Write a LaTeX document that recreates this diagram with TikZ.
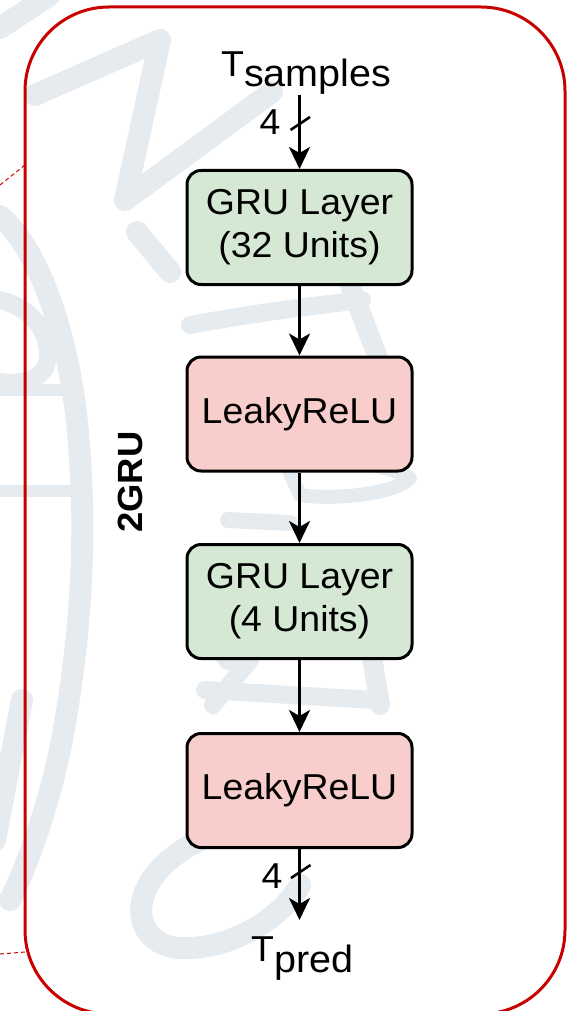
\documentclass[tikz,border=0pt]{standalone}
\usepackage{fontspec}
\setmainfont[FakeStretch=1.04]{Liberation Sans}
\usetikzlibrary{arrows.meta}

\definecolor{gruFill}{HTML}{D5E8D4}
\definecolor{actFill}{HTML}{F8CECC}
\definecolor{frameRed}{RGB}{200,0,0}
\definecolor{markGrey}{RGB}{230,235,240}

\tikzset{
  layerbox/.style={draw=black, line width=3pt, rounded corners=14pt,
    minimum width=225pt, minimum height=114pt, inner sep=0pt, align=center,
    font=\fontsize{36}{43}\selectfont},
  grubox/.style={layerbox, fill=gruFill},
  actbox/.style={layerbox, fill=actFill},
  flow/.style={line width=3pt, -{Stealth[length=22pt,width=21pt,inset=6pt]}},
  busmark/.style={line width=2.5pt},
  buslabel/.style={inner sep=0pt, font=\fontsize{36}{40}\selectfont},
  iolabel/.style={inner sep=0pt, anchor=base west, font=\fontsize{36}{42}\selectfont},
  outline/.style={draw=frameRed, line width=3pt, rounded corners=84pt},
  link/.style={draw=frameRed, line width=1pt, dash pattern=on 4pt off 3pt},
  faint/.style={draw=markGrey, line width=22pt, line cap=round, line join=round}
}

\begin{document}
\begin{tikzpicture}[x=1pt,y=-1pt]
\useasboundingbox (0,0) rectangle (567,1011);
\clip (0,0) rectangle (567,1011);

% faint seal in the background
\begin{scope}[faint]
  % upper letter
  \draw (0,28) -- (50,-5);
  \draw (35,95) -- (160,40) -- (125,200) -- (272,92);
  \draw (137,232) -- (170,272);
  % outer ring of the globe
  \draw (0,216) .. controls (40,250) and (70,340) .. (78,433)
        .. controls (86,520) and (84,620) .. (62,740)
        .. controls (50,800) and (30,860) .. (10,900);
  \draw[line width=18pt] (0,300) .. controls (40,310) and (55,345) .. (45,368) .. controls (38,380) and (20,385) .. (0,382);
  \draw[line width=12pt] (0,390) -- (69,390);
  \draw[line width=12pt] (0,491) -- (80,491);
  \draw (-5,840) -- (22,700);
  % right-hand strokes
  \draw[line width=18pt] (190,325) .. controls (260,312) and (320,305) .. (362,300);
  \draw[line width=20pt] (350,285) -- (382,368);
  \draw[line width=14pt] (285,462) .. controls (330,455) and (390,465) .. (410,478)
        .. controls (395,495) and (330,500) .. (300,495) -- cycle;
  \draw[line width=16pt] (228,520) -- (290,523);
  \draw[line width=20pt] (215,640) -- (228,660);
  \draw[line width=20pt] (365,615) -- (380,705);
  \draw[line width=18pt] (205,690) -- (375,700);
  \draw[line width=18pt] (213,705) -- (250,660);
  % lower hook
  \draw (200,840) .. controls (120,880) and (130,945) .. (180,948)
        .. controls (230,950) and (280,920) .. (300,885);
\end{scope}

% connections to the neighbouring block
\draw[link] (0,185) -- (25,165);
\draw[link] (0,954) -- (25,952);

% group outline
\draw[outline] (25,7) rectangle (565,1014);

% group title
\node[rotate=90, inner sep=0pt, font=\bfseries\fontsize{35}{42}\selectfont] (title) at (130,482) {2GRU};

% layers
\node[grubox] (gru1) at (299.5,227.5) {GRU Layer\\(32 Units)};
\node[actbox] (act1) at (299.5,414) {LeakyReLU};
\node[grubox] (gru2) at (299.5,601.5) {GRU Layer\\(4 Units)};
\node[actbox] (act2) at (299.5,790.5) {LeakyReLU};

% input and output
\node[iolabel] (tin) at (221,77) {T\raisebox{-10pt}{\fontsize{38}{42}\selectfont samples}};
\node[iolabel] (tout) at (251,961) {T\raisebox{-11pt}{\fontsize{38}{42}\selectfont pred}};
\coordinate (inStart) at (299.5,95);
\coordinate (outEnd) at (299.5,920);

\draw[flow] (inStart) -- (gru1.north);
\draw[flow] (gru1.south) -- (act1.north);
\draw[flow] (act1.south) -- (gru2.north);
\draw[flow] (gru2.south) -- (act2.north);
\draw[flow] (act2.south) -- (outEnd);

% bus width marks
\draw[busmark] (290.5,130) -- (310,117);
\node[buslabel] (win) at (270,122) {4};
\draw[busmark] (291,878) -- (310.5,865);
\node[buslabel] (wout) at (272,876) {4};
\end{tikzpicture}
\end{document}
